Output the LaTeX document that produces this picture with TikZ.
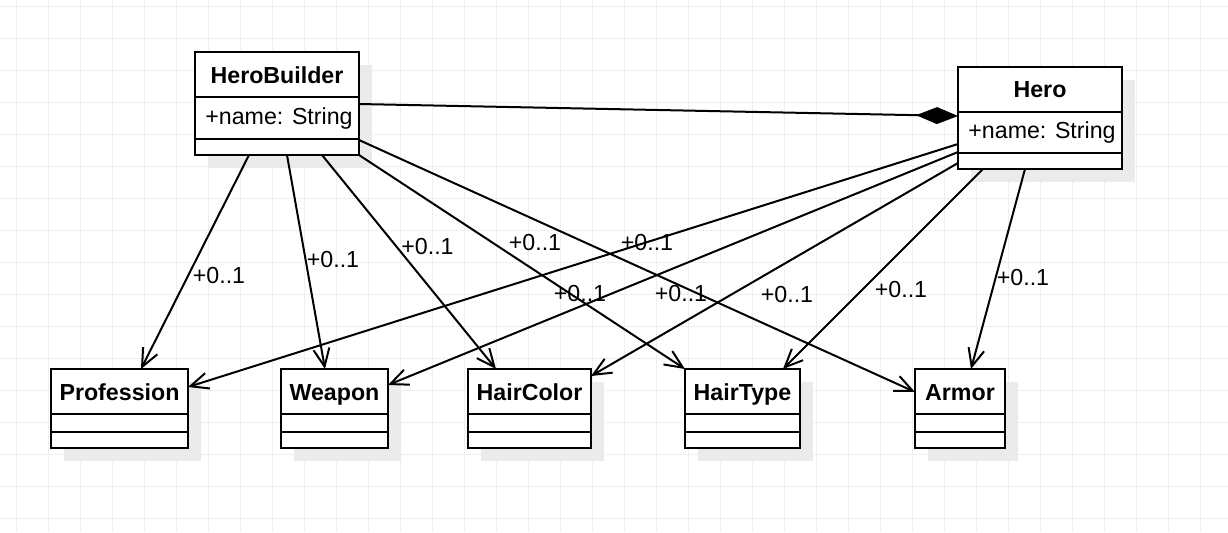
\documentclass[tikz,border=0pt]{standalone}
\usepackage{fontspec}
\setmainfont{Liberation Sans}
\usetikzlibrary{fit,arrows.meta,calc}
\definecolor{gridc}{RGB}{239,239,239}
\definecolor{shadowc}{RGB}{235,235,235}
\tikzset{
 umlrect/.style={draw=black, fill=white, line width=1.1pt, inner sep=0pt, outer sep=0pt},
 sepline/.style={line width=1.1pt},
 ttl/.style={font=\bfseries\fontsize{11.6}{14}\selectfont, anchor=base, inner sep=0pt},
 attr/.style={font=\fontsize{11.6}{14}\selectfont, anchor=base west, inner sep=0pt},
 mult/.style={font=\fontsize{11.6}{14}\selectfont, anchor=base, inner sep=0pt},
 assoc/.style={line width=1pt, -{Straight Barb[length=9pt,width=8pt]}},
 compo/.style={line width=1pt, -{Diamond[length=21pt,width=8.5pt]}},
 gridline/.style={draw=gridc, line width=0.5pt},
}
\newcommand\umlclass[7]{%
 \fill[shadowc] ({#2+12.5},{#3+12.5}) rectangle ({#4+12.5},{#5+12.5});
 \node[umlrect, fit={(#2,#3)(#4,#5)}] (#1) {};
 \draw[sepline] (#2,#6) -- (#4,#6) (#2,#7) -- (#4,#7);
}
\begin{document}
\begin{tikzpicture}[x=0.5pt,y=-0.5pt]
\fill[white] (0,0) rectangle (1228,532);
\useasboundingbox (0,0) rectangle (1228,532);
\foreach \gx in {16,48,...,1228} \draw[gridline] (\gx,0) -- (\gx,532);
\foreach \gy in {6,38,...,532} \draw[gridline] (0,\gy) -- (1228,\gy);

\umlclass{hb}{195}{52}{359}{155}{97}{139}
\umlclass{hero}{958}{67}{1122}{169}{112}{153}
\umlclass{prof}{51}{369}{188}{448}{414}{432}
\umlclass{weap}{281}{369}{388}{448}{414}{432}
\umlclass{hc}{468}{369}{591}{448}{414}{432}
\umlclass{ht}{685}{369}{800}{448}{414}{432}
\umlclass{arm}{915}{369}{1005}{448}{414}{432}

\node[ttl] (hbt) at (277,83) {HeroBuilder};
\node[attr] (hba) at (205,124) {+name: String};
\node[ttl] (herot) at (1040,97) {Hero};
\node[attr] (heroa) at (968,138.5) {+name: String};
\node[ttl] (proft) at (119.5,400) {Profession};
\node[ttl] (weapt) at (334.5,400) {Weapon};
\node[ttl] (hct) at (529.5,400) {HairColor};
\node[ttl] (htt) at (742.5,400) {HairType};
\node[ttl] (armt) at (960,400) {Armor};

\draw[compo] ($(hb.north east)+(0,52)$) -- ($(hero.north west)+(0,49)$);

\draw[assoc] ($(hb.south west)+(54,0)$) -- ($(prof.north west)+(90,0)$);
\draw[assoc] ($(hb.south west)+(92,0)$) -- ($(weap.north west)+(44,0)$);
\draw[assoc] ($(hb.south west)+(127,0)$) -- ($(hc.north west)+(28,0)$);
\draw[assoc] (hb.south east) -- (ht.north west);
\draw[assoc] ($(hb.south east)+(0,-15)$) -- ($(arm.north west)+(0,23)$);

\draw[assoc] ($(hero.north west)+(0,77)$) -- ($(prof.north east)+(0,18)$);
\draw[assoc] ($(hero.north west)+(0,85)$) -- ($(weap.north east)+(0,16)$);
\draw[assoc] ($(hero.north west)+(0,96)$) -- ($(hc.north east)+(0,7)$);
\draw[assoc] ($(hero.south west)+(25,0)$) -- ($(ht.north west)+(98,0)$);
\draw[assoc] ($(hero.south west)+(67,0)$) -- ($(arm.north west)+(56,0)$);

\node[mult] (m1) at (219,283) {+0..1};
\node[mult] (m2) at (333,267.5) {+0..1};
\node[mult] (m3) at (427.5,254) {+0..1};
\node[mult] (m4) at (535,250.7) {+0..1};
\node[mult] (m5) at (647,250.5) {+0..1};
\node[mult] (m6) at (580,301.7) {+0..1};
\node[mult] (m7) at (681,301.7) {+0..1};
\node[mult] (m8) at (787,302) {+0..1};
\node[mult] (m9) at (901,297.3) {+0..1};
\node[mult] (m10) at (1023,285) {+0..1};
\end{tikzpicture}
\end{document}
